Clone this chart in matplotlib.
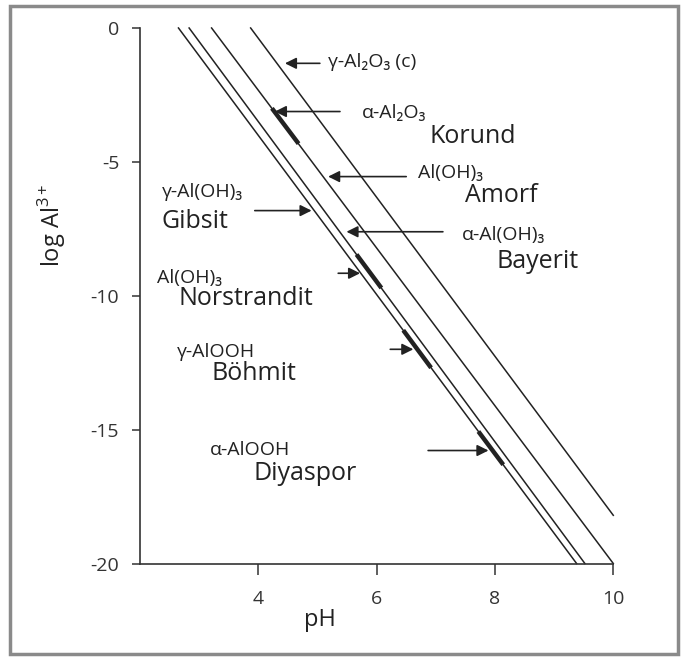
import matplotlib.pyplot as plt
from matplotlib.patches import Rectangle

plt.rcParams['font.family'] = ['Open Sans', 'DejaVu Sans']
plt.rcParams['axes.unicode_minus'] = False

# solubility lines, end points
line_ph = [[2.65, 9.38], [2.83, 9.52], [3.21, 10.0], [3.87, 10.0]]
line_logal = [[0, -20], [0, -20], [0, -20], [0, -18.2]]

# short thick marks on the lines
mark_ph = [[4.23, 4.68], [5.66, 6.08], [6.45, 6.92], [7.72, 8.14]]
mark_logal = [[-3.0, -4.32], [-8.46, -9.71], [-11.29, -12.69], [-15.07, -16.31]]

# arrows: tail pH, tip pH, log Al
arrow_tail = [5.04, 5.38, 6.50, 3.94, 7.12, 5.35, 6.23, 6.87]
arrow_tip = [4.45, 4.28, 5.18, 4.90, 5.49, 5.72, 6.62, 7.89]
arrow_y = [-1.32, -3.12, -5.55, -6.82, -7.61, -9.16, -12.0, -15.78]

# formula labels
formula_text = ['γ-Al₂O₃ (c)', 'α-Al₂O₃', 'Al(OH)₃', 'γ-Al(OH)₃',
                'α-Al(OH)₃', 'Al(OH)₃', 'γ-AlOOH', 'α-AlOOH']
formula_x = [5.18, 5.75, 6.70, 2.37, 7.44, 2.28, 2.62, 3.18]
formula_y = [-1.26, -3.19, -5.43, -6.11, -7.73, -9.34, -12.09, -15.76]

# mineral names
name_text = ['Korund', 'Amorf', 'Gibsit', 'Bayerit', 'Norstrandit', 'Böhmit', 'Diyaspor']
name_x = [6.90, 7.49, 2.37, 8.03, 2.65, 3.21, 3.91]
name_y = [-4.06, -6.24, -7.23, -8.73, -10.09, -12.9, -16.63]

xticks = [4, 6, 8, 10]
yticks = [0, -5, -10, -15, -20]

ink = '#222222'

fig = plt.figure(figsize=(6.87, 6.6), dpi=100)
ax = fig.add_axes([0.2038, 0.1462, 0.6889, 0.8114])

for xs, ys in zip(line_ph, line_logal):
    ax.plot(xs, ys, color=ink, lw=1.1, clip_on=False)

for xs, ys in zip(mark_ph, mark_logal):
    ax.plot(xs, ys, color=ink, lw=3.2, solid_capstyle='butt', clip_on=False)

for t0, t1, y in zip(arrow_tail, arrow_tip, arrow_y):
    ax.annotate('', xy=(t1, y), xytext=(t0, y),
                arrowprops=dict(arrowstyle='-|>', color=ink, lw=1.2,
                                mutation_scale=17, shrinkA=0, shrinkB=0))

for s, x, y in zip(formula_text, formula_x, formula_y):
    ax.text(x, y, s, fontsize=14, color=ink, ha='left', va='center')

for s, x, y in zip(name_text, name_x, name_y):
    ax.text(x, y, s, fontsize=18, color=ink, ha='left', va='center')

ax.set_xlim(2, 10)
ax.set_ylim(-20, 0)
ax.set_xticks(xticks)
ax.set_yticks(yticks)
ax.spines['top'].set_visible(False)
ax.spines['right'].set_visible(False)
for sp in ['left', 'bottom']:
    ax.spines[sp].set_color('#333333')
    ax.spines[sp].set_linewidth(1.2)
ax.tick_params(axis='x', direction='out', length=8, width=1.1, pad=11,
               labelsize=14, colors='#333333')
ax.tick_params(axis='y', direction='out', length=6, width=1.1, pad=9,
               labelsize=14, colors='#333333')

fig.text(52 / 687, 1 - 225 / 660, 'log Al$^{\\mathregular{3+}}$', rotation=90,
         ha='center', va='center', fontsize=17, color=ink)
fig.text(320 / 687, 1 - 620 / 660, 'pH', ha='center', va='center',
         fontsize=17, color=ink)

fig.patches.append(Rectangle((10 / 687, 6 / 660), 668 / 687, 648 / 660,
                             transform=fig.transFigure, fill=False,
                             edgecolor='#8a8a8a', lw=2.5))

fig.savefig('out.png', dpi=100)
